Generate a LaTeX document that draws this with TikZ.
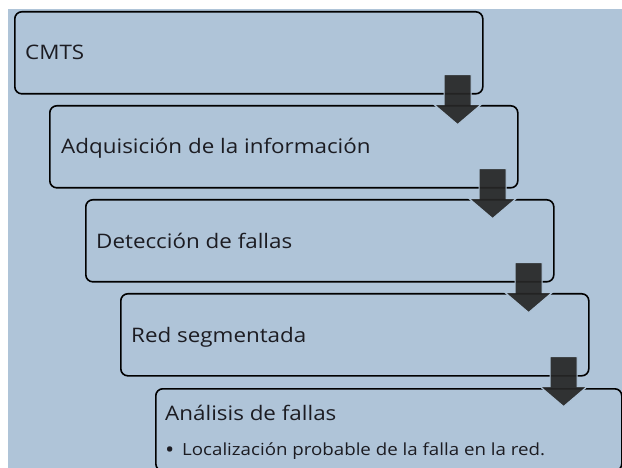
\documentclass[tikz,border=0pt]{standalone}
\usepackage{fontspec}
\setmainfont[FakeStretch=1.12]{Open Sans}
\usetikzlibrary{calc}
\definecolor{bgblue}{RGB}{175,196,216}
\definecolor{txt}{RGB}{28,28,34}
\definecolor{arrowdark}{RGB}{38,38,38}
\tikzset{
  box/.style={draw=black, line width=1.6pt, rounded corners=7pt, minimum width=468pt, minimum height=82pt, anchor=north west, inner sep=0pt},
  label/.style={anchor=base west, text=txt, font=\fontsize{20}{24}\selectfont, inner sep=0pt},
  sublabel/.style={anchor=base west, text=txt, font=\fontsize{16.7}{20}\selectfont, inner sep=0pt},
  blockarrow/.style={fill=arrowdark, fill opacity=0.92, draw=bgblue, line width=1.2pt, line join=miter}
}
\newcommand{\downarrowfrom}[1]{%
  \path[blockarrow]
    ($(#1.south east)+(-39.5,20)$) -- ($(#1.south east)+(-12.5,20)$)
    -- ($(#1.south east)+(-12.5,-10)$) -- ($(#1.south east)+(-2.5,-10)$)
    -- ($(#1.south east)+(-26,-30)$) -- ($(#1.south east)+(-49.5,-10)$)
    -- ($(#1.south east)+(-39.5,-10)$) -- cycle;
}
\begin{document}
\begin{tikzpicture}[x=1pt,y=1pt]
\useasboundingbox (0,0) rectangle (622,-468);
\clip (0,0) rectangle (622,-468);
\fill[white] (0,0) rectangle (622,-468);
\fill[bgblue] (8,-9) rectangle (622,-468);
\node[box] (b1) at (14,-11) {};
\node[box] (b2) at (49,-105) {};
\node[box] (b3) at (85,-199) {};
\node[box] (b4) at (120,-293) {};
\node[box, minimum width=466pt] (b5) at (155,-388) {};
\node[label] (t1) at (25,-60) {CMTS};
\node[label] (t2) at (61,-154) {Adquisición de la información};
\node[label] (t3) at (96,-248) {Detección de fallas};
\node[label] (t4) at (131,-342) {Red segmentada};
\node[label] (t5) at (165,-420) {Análisis de fallas};
\node[sublabel] (t6) at (165,-455) {\makebox[17pt][l]{\raisebox{-2.2pt}{\fontsize{22}{20}\selectfont\textbullet}}Localización probable de la falla en la red.};
\downarrowfrom{b1}
\downarrowfrom{b2}
\downarrowfrom{b3}
\downarrowfrom{b4}
\end{tikzpicture}
\end{document}
